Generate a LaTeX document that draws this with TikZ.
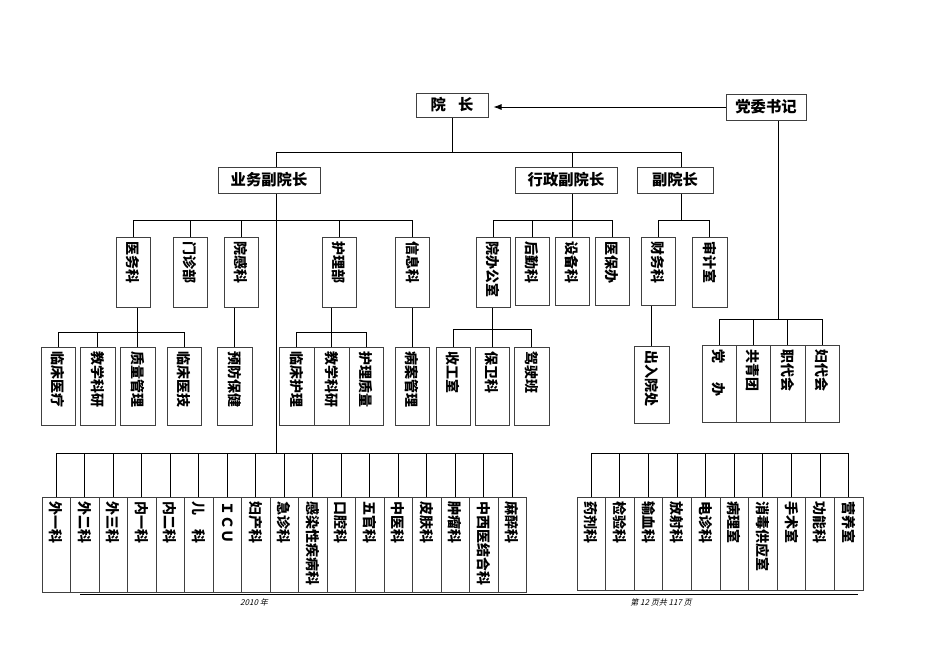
\documentclass[tikz,border=0pt]{standalone}
\usepackage{fontspec}
\usepackage{graphicx}
\newfontfamily\cjk{Noto Sans CJK SC}
\newfontfamily\cjksl{Noto Sans CJK SC}[FakeSlant=0.25]
\usetikzlibrary{calc,arrows.meta}
\newcommand\vtxt[2]{\rotatebox{-90}{\makebox[\dimexpr #1pt*3/4\relax][l]{#2}}}
\tikzset{
  hbox/.style={draw=black!75, line width=0.75pt, fill=white, inner sep=0pt,
    font={\cjk\bfseries\fontsize{11.5}{12}\selectfont}},
  vbox/.style={draw=black!75, line width=0.75pt, fill=white, inner sep=0pt,
    font={\cjk\bfseries\fontsize{10.5}{11}\selectfont}},
  sz/.style 2 args={minimum width=#1*0.75pt, minimum height=#2*0.75pt},
  conn/.style={draw=black, line width=0.65pt},
  foot/.style={font={\cjksl\fontsize{6}{7}\selectfont}, inner sep=0pt},
}
\begin{document}
\begin{tikzpicture}[x=0.75pt,y=-0.75pt]
\useasboundingbox (0,0) rectangle (936,662);
% ---------- level 0/1
\node[hbox, sz={72}{24}] (yz) at (452,105) {院\hspace{0.8em}长};
\node[hbox, sz={80}{26}] (dw) at (766,107) {党委书记};
\node[hbox, sz={102}{26}] (ywf) at (269,180) {业务副院长};
\node[hbox, sz={102}{26}] (xzf) at (566,180) {行政副院长};
\node[hbox, sz={76}{26}] (fyz) at (675,180) {副院长};
% ---------- level 2
\node[vbox, sz={34}{70}] (ywk) at (133,272) {\vtxt{62}{医务科}};
\node[vbox, sz={34}{70}] (mzb) at (190,272) {\vtxt{62}{门诊部}};
\node[vbox, sz={34}{70}] (ygk) at (241,272) {\vtxt{62}{院感科}};
\node[vbox, sz={34}{70}] (hlb) at (339,272) {\vtxt{62}{护理部}};
\node[vbox, sz={34}{70}] (xxk) at (412.5,272) {\vtxt{62}{信息科}};
\node[vbox, sz={34}{70}] (ybs) at (493,272) {\vtxt{62}{院办公室}};
\node[vbox, sz={34}{68}] (hqk) at (532,271) {\vtxt{60}{后勤科}};
\node[vbox, sz={34}{68}] (sbk) at (572,271) {\vtxt{60}{设备科}};
\node[vbox, sz={34}{68}] (ybb) at (612,271) {\vtxt{60}{医保办}};
\node[vbox, sz={34}{68}] (cwk) at (658,271) {\vtxt{60}{财务科}};
\node[vbox, sz={35}{70}] (sjs) at (709.5,272) {\vtxt{62}{审计室}};
% ---------- level 3
\node[vbox, sz={34}{78}] (lcyl) at (58,386) {\vtxt{70}{临床医疗}};
\node[vbox, sz={35}{78}] (jxky) at (97.5,386) {\vtxt{70}{教学科研}};
\node[vbox, sz={35}{78}] (zlgl) at (137.5,386) {\vtxt{70}{质量管理}};
\node[vbox, sz={34}{78}] (lcyj) at (184,386) {\vtxt{70}{临床医技}};
\node[vbox, sz={35}{78}] (yfbj) at (234.5,386) {\vtxt{70}{预防保健}};
\node[vbox, sz={35}{78}] (lchl) at (296.5,386) {\vtxt{70}{临床护理}};
\node[vbox, sz={35}{78}] (jxkyb) at (331.5,386) {\vtxt{70}{教学科研}};
\node[vbox, sz={34}{78}] (hlzl) at (366,386) {\vtxt{70}{护理质量}};
\node[vbox, sz={34}{78}] (bagl) at (412,386) {\vtxt{70}{病案管理}};
\node[vbox, sz={34}{78}] (sgs) at (453,386) {\vtxt{70}{收工室}};
\node[vbox, sz={34}{78}] (bwk) at (492,386) {\vtxt{70}{保卫科}};
\node[vbox, sz={35}{78}] (jsb) at (531.5,386) {\vtxt{70}{驾驶班}};
\node[vbox, sz={35}{77}] (cry) at (651.5,384.5) {\vtxt{69}{出入院处}};
\node[vbox, sz={34}{77}] (dban) at (719,383.5) {\vtxt{69}{党\hspace{1.4em}办}};
\node[vbox, sz={34}{77}] (gqt) at (753,383.5) {\vtxt{69}{共青团}};
\node[vbox, sz={35}{77}] (zdh) at (787.5,383.5) {\vtxt{69}{职代会}};
\node[vbox, sz={34}{77}] (fdh) at (822,383.5) {\vtxt{69}{妇代会}};
% ---------- bottom rows
\foreach \t [count=\i] in {外一科,外二科,外三科,内一科,内二科,{儿\hspace{1em}科},ＩＣＵ,妇产科,急诊科,感染性疾病科,口腔科,五官科,中医科,皮肤科,肿瘤科,中西医结合科,麻醉科}
  \node[vbox, sz={28.5}{95}] (L\i) at ({42+28.5*(\i-0.5)},544.5) {\vtxt{87}{\t}};
\foreach \t [count=\i] in {药剂科,检验科,输血科,放射科,电诊科,病理室,消毒供应室,手术室,功能科,营养室}
  \node[vbox, sz={28.6}{93}] (R\i) at ({577+28.6*(\i-0.5)},543.5) {\vtxt{85}{\t}};
% ---------- coordinates
\coordinate (b0) at (0,152);
\coordinate (b1) at (0,220);
\coordinate (b2a) at (0,332);
\coordinate (b2b) at (0,329);
\coordinate (b2d) at (0,319);
\coordinate (b3) at (0,453);
\coordinate (tA) at (276,0);
\coordinate (tB) at (572,0);
\coordinate (tC) at (681,0);
\coordinate (tD) at (778,0);
\coordinate (ae) at ($(yz.east)+(5,0)$);
% ---------- connectors
\draw[conn, -{Latex[length=6pt,width=4.5pt]}] (dw.west) -- (dw.west -| ae);
\draw[conn] (yz.south) -- (yz.south |- b0);
\draw[conn] (tA |- b0) -- (tC |- b0);
\draw[conn] (tA |- b0) -- (tA |- ywf.north);
\draw[conn] (tB |- b0) -- (tB |- xzf.north);
\draw[conn] (tC |- b0) -- (tC |- fyz.north);
% business vice-president
\draw[conn] (tA |- ywf.south) -- (tA |- b3);
\draw[conn] (ywk.north |- b1) -- (xxk.north |- b1);
\foreach \n in {ywk,mzb,ygk,hlb,xxk} \draw[conn] (\n.north |- b1) -- (\n.north);
% administrative vice-president
\draw[conn] (tB |- xzf.south) -- (tB |- b1);
\draw[conn] (ybs.north |- b1) -- (ybb.north |- b1);
\foreach \n in {ybs,hqk,sbk,ybb} \draw[conn] (\n.north |- b1) -- (\n.north);
% vice-president
\draw[conn] (tC |- fyz.south) -- (tC |- b1);
\draw[conn] (cwk.north |- b1) -- (sjs.north |- b1);
\foreach \n in {cwk,sjs} \draw[conn] (\n.north |- b1) -- (\n.north);
% party secretary
\draw[conn] (tD |- dw.south) -- (tD |- b2d);
\draw[conn] (dban.north |- b2d) -- (fdh.north |- b2d);
\foreach \n in {dban,gqt,zdh,fdh} \draw[conn] (\n.north |- b2d) -- (\n.north);
% level 3 connectors
\draw[conn] (ywk.south -| zlgl.north) -- (zlgl.north);
\draw[conn] (lcyl.north |- b2a) -- (lcyj.north |- b2a);
\foreach \n in {lcyl,jxky,lcyj} \draw[conn] (\n.north |- b2a) -- (\n.north);
\draw[conn] (ygk.south -| yfbj.north) -- (yfbj.north);
\draw[conn] (hlb.south -| jxkyb.north) -- (jxkyb.north);
\draw[conn] (lchl.north |- b2a) -- (hlzl.north |- b2a);
\foreach \n in {lchl,hlzl} \draw[conn] (\n.north |- b2a) -- (\n.north);
\draw[conn] (xxk.south -| bagl.north) -- (bagl.north);
\draw[conn] (ybs.south -| bwk.north) -- (bwk.north);
\draw[conn] (sgs.north |- b2b) -- (jsb.north |- b2b);
\foreach \n in {sgs,jsb} \draw[conn] (\n.north |- b2b) -- (\n.north);
\draw[conn] (cwk.south -| cry.north) -- (cry.north);
% bottom buses
\draw[conn] (L1.north |- b3) -- (L17.north |- b3);
\foreach \i in {1,...,17} \draw[conn] (L\i.north |- b3) -- (L\i.north);
\draw[conn] (R1.north |- b3) -- (R10.north |- b3);
\foreach \i in {1,...,10} \draw[conn] (R\i.north |- b3) -- (R\i.north);
% ---------- footer
\coordinate (fl1) at (80,594);
\coordinate (fl2) at (858,594);
\draw[line width=0.6pt] (fl1) -- (fl2);
\node[foot] (ft1) at (254,602) {2010 年};
\node[foot] (ft2) at (661,602) {第 12 页共 117 页};
\end{tikzpicture}
\end{document}
